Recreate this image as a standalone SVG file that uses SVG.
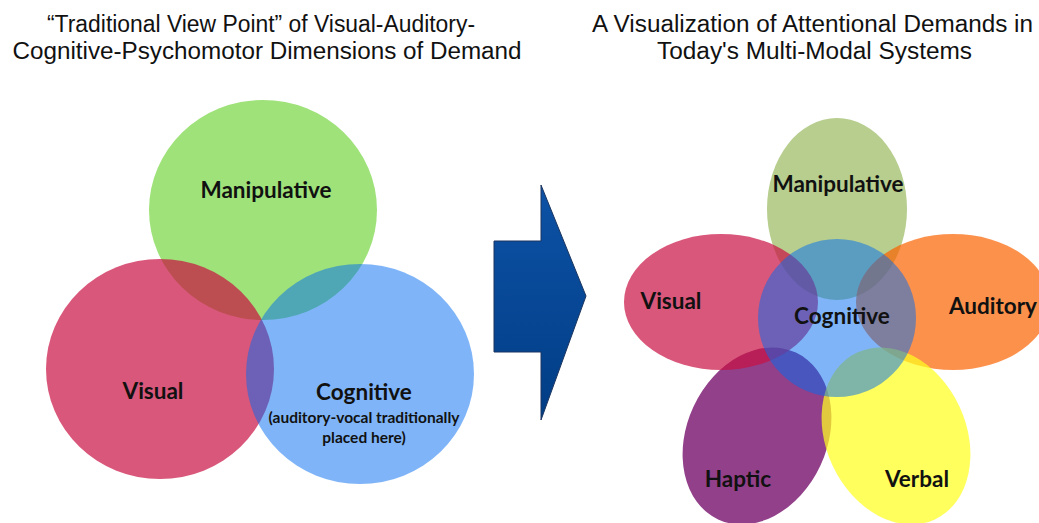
<svg xmlns="http://www.w3.org/2000/svg" width="1039" height="523" viewBox="0 0 1039 523">
  <defs>
    <linearGradient id="arrowFill" x1="0" y1="0" x2="0" y2="1">
      <stop offset="0" stop-color="#0d52a6"/>
      <stop offset="1" stop-color="#013d85"/>
    </linearGradient>
  </defs>
  <style>
    .title { font-family: "Liberation Sans", Arial, sans-serif; font-size: 23.5px; fill: #111; text-anchor: middle; }
    .lbl { font-family: Lato, "Open Sans", sans-serif; font-weight: bold; font-size: 22.5px; fill: #111; text-anchor: middle; }
    .sub { font-family: Lato, "Open Sans", sans-serif; font-weight: bold; font-size: 15.5px; fill: #111; text-anchor: middle; }
    .green { fill: #9fe27a; }
    .olive { fill: #b7ce8f; }
    .red { fill: #c90f41; fill-opacity: 0.7; }
    .blue { fill: #006bf1; fill-opacity: 0.5; }
    .orange { fill: #fb6300; fill-opacity: 0.7; }
    .purple { fill: #92408a; }
    .yellow { fill: #ffff20; fill-opacity: 0.72; }
  </style>

  <rect width="1039" height="523" fill="#ffffff"/>

  <!-- headings -->
  <g id="title-left">
    <text class="title" x="261" y="32" textLength="428" lengthAdjust="spacingAndGlyphs">“Traditional View Point” of Visual-Auditory-</text>
    <text class="title" x="267" y="59" textLength="509" lengthAdjust="spacingAndGlyphs">Cognitive-Psychomotor Dimensions of Demand</text>
  </g>
  <g id="title-right">
    <text class="title" x="812.5" y="32" textLength="441" lengthAdjust="spacingAndGlyphs">A Visualization of Attentional Demands in</text>
    <text class="title" x="814.5" y="59" textLength="315" lengthAdjust="spacingAndGlyphs">Today's Multi-Modal Systems</text>
  </g>

  <!-- three-circle model -->
  <g id="left-manipulative">
    <ellipse class="green" cx="263" cy="210" rx="114" ry="110"/>
  </g>
  <g id="left-visual">
    <ellipse class="red" cx="160" cy="369" rx="114" ry="110"/>
  </g>
  <g id="left-cognitive">
    <ellipse class="blue" cx="360" cy="374" rx="114" ry="110"/>
  </g>
  <g id="left-labels">
    <text class="lbl" x="266" y="198">Manipulative</text>
    <text class="lbl" x="153" y="399">Visual</text>
    <text class="lbl" x="364" y="400">Cognitive</text>
    <text class="sub" x="364" y="423">(auditory-vocal traditionally</text>
    <text class="sub" x="364" y="443">placed here)</text>
  </g>

  <!-- block arrow between the two models -->
  <g id="connectors">
    <path d="M494,241 H541 V185 L586,296 L541,420 V352 H494 Z" fill="url(#arrowFill)" stroke="#1a3560" stroke-width="1"/>
  </g>

  <!-- multi-modal flower -->
  <g id="right-manipulative">
    <ellipse class="olive" cx="837" cy="209" rx="70" ry="91"/>
  </g>
  <g id="right-haptic">
    <ellipse class="purple" cx="757" cy="436" rx="70" ry="92" transform="rotate(25 757 436)"/>
  </g>
  <g id="right-visual">
    <ellipse class="red" cx="721" cy="302" rx="97" ry="68"/>
  </g>
  <g id="right-auditory">
    <ellipse class="orange" cx="953" cy="302" rx="97" ry="68"/>
  </g>
  <g id="right-verbal">
    <ellipse class="yellow" cx="896" cy="436" rx="70" ry="92" transform="rotate(-25 896 436)"/>
  </g>
  <g id="right-cognitive">
    <circle class="blue" cx="837" cy="318" r="79"/>
  </g>
  <g id="right-labels">
    <text class="lbl" x="838" y="192">Manipulative</text>
    <text class="lbl" x="671" y="309">Visual</text>
    <text class="lbl" x="842" y="324">Cognitive</text>
    <text class="lbl" x="993" y="314">Auditory</text>
    <text class="lbl" x="738" y="487">Haptic</text>
    <text class="lbl" x="917" y="487">Verbal</text>
  </g>
</svg>
